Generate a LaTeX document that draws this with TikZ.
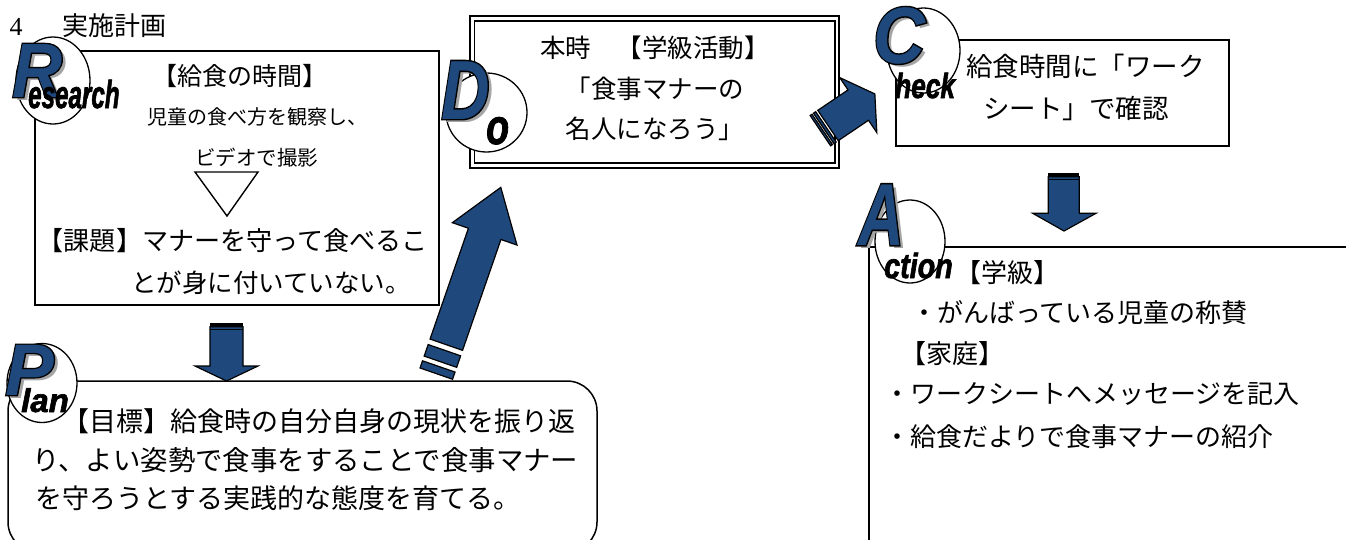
\documentclass[tikz,border=0pt]{standalone}
\usepackage{fontspec}
\setmainfont{Noto Sans CJK JP}
\newfontfamily\pdcafont{Liberation Sans}
\newfontfamily\pdcaout{Liberation Sans}[BoldItalicFeatures={FakeBold=3.5}]
\newfontfamily\pdcaheavy{Liberation Sans}[BoldItalicFeatures={FakeBold=2}]
\newfontfamily\numfont{Liberation Serif}
\usetikzlibrary{calc,shapes.geometric}
\definecolor{pblue}{RGB}{31,73,125}
\definecolor{shgray}{RGB}{165,165,165}
\tikzset{
  txt/.style={inner sep=0pt, font=\fontsize{#1pt}{#1pt}\selectfont},
  bigL/.style={inner sep=0pt, anchor=base west, font=\pdcafont\bfseries\itshape\fontsize{#1pt}{#1pt}\selectfont},
  smallL/.style={inner sep=0pt, anchor=base west, text=black, font=\pdcaheavy\bfseries\itshape\fontsize{#1pt}{#1pt}\selectfont},
  boxline/.style={draw=black, line width=1.5pt},
  ring/.style={draw=black, line width=1.3pt, fill=white, ellipse, inner sep=0pt},
  barrow/.style={draw=black, line width=1.2pt, fill=pblue, line join=miter},
}
\newcommand\shcopy[3]{\rlap{\hspace{#1}\raisebox{#2}{#3}}}
% big capital: grey shadow, black outline (emboldened copy), blue fill
\newcommand\bigletter[2]{%
  \shcopy{4pt}{-3pt}{\color{shgray}\scalebox{#1}[1]{#2}}%
  \shcopy{0pt}{0pt}{\color{black}\pdcaout\bfseries\itshape\scalebox{#1}[1]{#2}}%
  {\color{pblue}\scalebox{#1}[1]{#2}}}
\begin{document}
\begin{tikzpicture}[x=1pt,y=-1pt]
\useasboundingbox (0,0) rectangle (1346,539);
\fill[white] (0,0) rectangle (1346,539);
\clip (0,0) rectangle (1346,539);

% title
\node[inner sep=0pt, font=\numfont\fontsize{26pt}{26pt}\selectfont] (tnum) at (16,27) {4};
\node[txt=26] (title) at (114.5,26) {実施計画};

% boxes
\node[boxline, inner sep=0pt, outer sep=0pt, minimum width=404pt, minimum height=254pt] (rbox) at (237,178) {};
\node[draw, line width=2.5pt, inner sep=0pt, outer sep=0pt, minimum width=369pt, minimum height=152pt] (dobox) at (654.5,92) {};
\draw[line width=1.5pt] ($(dobox.north west)+(4.5,5)$) rectangle ($(dobox.south east)+(-4,-5)$);
\node[boxline, inner sep=0pt, outer sep=0pt, minimum width=333pt, minimum height=106pt] (cbox) at (1062.5,93) {};
\node[boxline, rounded corners=30pt, inner sep=0pt, outer sep=0pt, minimum width=589pt, minimum height=171pt] (pbox) at (302.5,466.5) {};
\coordinate (aTL) at (869,247);
\draw[boxline] (1360,247) -- (aTL) -- (869,560);

% triangle in research box
\draw[line width=1.4pt, line join=miter] (195,172) -- (258,172) -- (227,216) -- cycle;

% arrow R -> P
\fill[black] (210,322.7) rectangle (243,326.7);
\draw[barrow] (210,326.7) -- (243,326.7) -- (243,366) -- (258,366) -- (226.5,381) -- (195,366) -- (210,366) -- cycle;
\draw[line width=1pt] (210,329.6) -- (243,329.6);

% arrow C -> A
\fill[black] (1048.3,172.7) rectangle (1079.3,176.7);
\draw[barrow] (1048.3,176.7) -- (1079.3,176.7) -- (1079.3,213.3) -- (1096,213.3) -- (1064,231) -- (1032.7,213.3) -- (1048.3,213.3) -- cycle;
\draw[line width=1pt] (1048.3,179.6) -- (1079.3,179.6);

% arrow P -> D
\coordinate (pdtail) at (446.3,344.7);
\begin{scope}[shift={(pdtail)}, rotate=70.9, x=1pt, y=1pt]
  \draw[barrow] (0,-17.2) -- (117.3,-17.2) -- (117.3,-34.2) -- (166.5,0) -- (117.3,34.2) -- (117.3,17.2) -- (0,17.2) -- cycle;
  \draw[barrow] (-5.8,-17.2) rectangle (-18,17.2);
  \draw[barrow] (-23,-17.2) rectangle (-30.6,17.2);
\end{scope}

% arrow D -> C
\coordinate (dctail) at (828,125.5);
\begin{scope}[shift={(dctail)}, rotate=34, x=1pt, y=1pt]
  \draw[barrow] (0,-18.3) -- (36.5,-18.3) -- (36.5,-33.2) -- (56.5,0) -- (36.5,33.2) -- (36.5,18.3) -- (0,18.3) -- cycle;
  \draw[barrow] (-2.5,-18.3) rectangle (-5.2,18.3);
  \draw[barrow] (-7,-18.3) rectangle (-9.2,18.3);
\end{scope}

% circles
\node[ring, minimum width=74pt, minimum height=87pt] (rc) at (53,80.5) {};
\node[ring, minimum width=81pt, minimum height=79pt] (dc) at (486.5,112.5) {};
\node[ring, minimum width=73pt, minimum height=85pt] (cc) at (923.5,50.5) {};
\node[ring, minimum width=70pt, minimum height=83pt] (ac) at (910,241.5) {};
\node[ring, minimum width=70pt, minimum height=79pt] (pc) at (42,383) {};

% letters
\node[bigL=77] (LR) at (12,97) {\bigletter{0.9}{R}};
\node[smallL=39] (lr) at (28,108) {\scalebox{0.62}[1]{esearch}};
\node[bigL=84] (LD) at (441,119) {\bigletter{0.8}{D}};
\node[smallL=50] (ld) at (486,144) {\scalebox{0.75}[1]{o}};
\node[bigL=80] (LC) at (873,63) {\bigletter{0.9}{C}};
\node[smallL=35] (lc) at (895,98) {\scalebox{0.75}[1]{heck}};
\node[bigL=88] (LA) at (858,245) {\bigletter{0.72}{A}};
\node[smallL=35] (la) at (884,278) {\scalebox{0.82}[1]{ction}};
\node[bigL=73] (LP) at (5,395) {\bigletter{1.0}{P}};
\node[smallL=33] (lp) at (21,412) {lan};

% research texts
\node[txt=25] (r1) at (240,76) {【給食の時間】};
\node[txt=20] (r2) at (257,117) {児童の食べ方を観察し、};
\node[txt=20.5] (r3) at (256.5,158) {ビデオで撮影};
\node[txt=26.1, anchor=west] (r4) at (37.5,241) {【課題】マナーを守って食べるこ};
\node[txt=25.5, anchor=west] (r5) at (131,283) {とが身に付いていない。};

% do texts
\node[txt=25.5] (d1) at (655,47.5) {本時　【学級活動】};
\node[txt=25.5] (d2) at (655,89) {「食事マナーの};
\node[txt=25.5] (d3) at (655,129) {名人になろう」};

% check texts
\node[txt=26.5, anchor=west] (c1) at (966,66) {給食時間に「ワーク};
\node[txt=26.5, anchor=west] (c2) at (983,108) {シート」で確認};

% action texts
\node[txt=26, anchor=west] (a1) at (955,273) {【学級】};
\node[txt=26, anchor=west] (a2) at (911,313) {・がんばっている児童の称賛};
\node[txt=26, anchor=west] (a3) at (900,354) {【家庭】};
\node[txt=26, anchor=west] (a4) at (884,394) {・ワークシートへメッセージを記入};
\node[txt=26, anchor=west] (a5) at (884,437) {・給食だよりで食事マナーの紹介};

% plan texts
\node[txt=27, anchor=west] (p1) at (62,421) {【目標】給食時の自分自身の現状を振り返};
\node[txt=27.4, anchor=west] (p2) at (32,460) {り、よい姿勢で食事をすることで食事マナー};
\node[txt=27, anchor=west] (p3) at (35,498) {を守ろうとする実践的な態度を育てる。};
\end{tikzpicture}
\end{document}
